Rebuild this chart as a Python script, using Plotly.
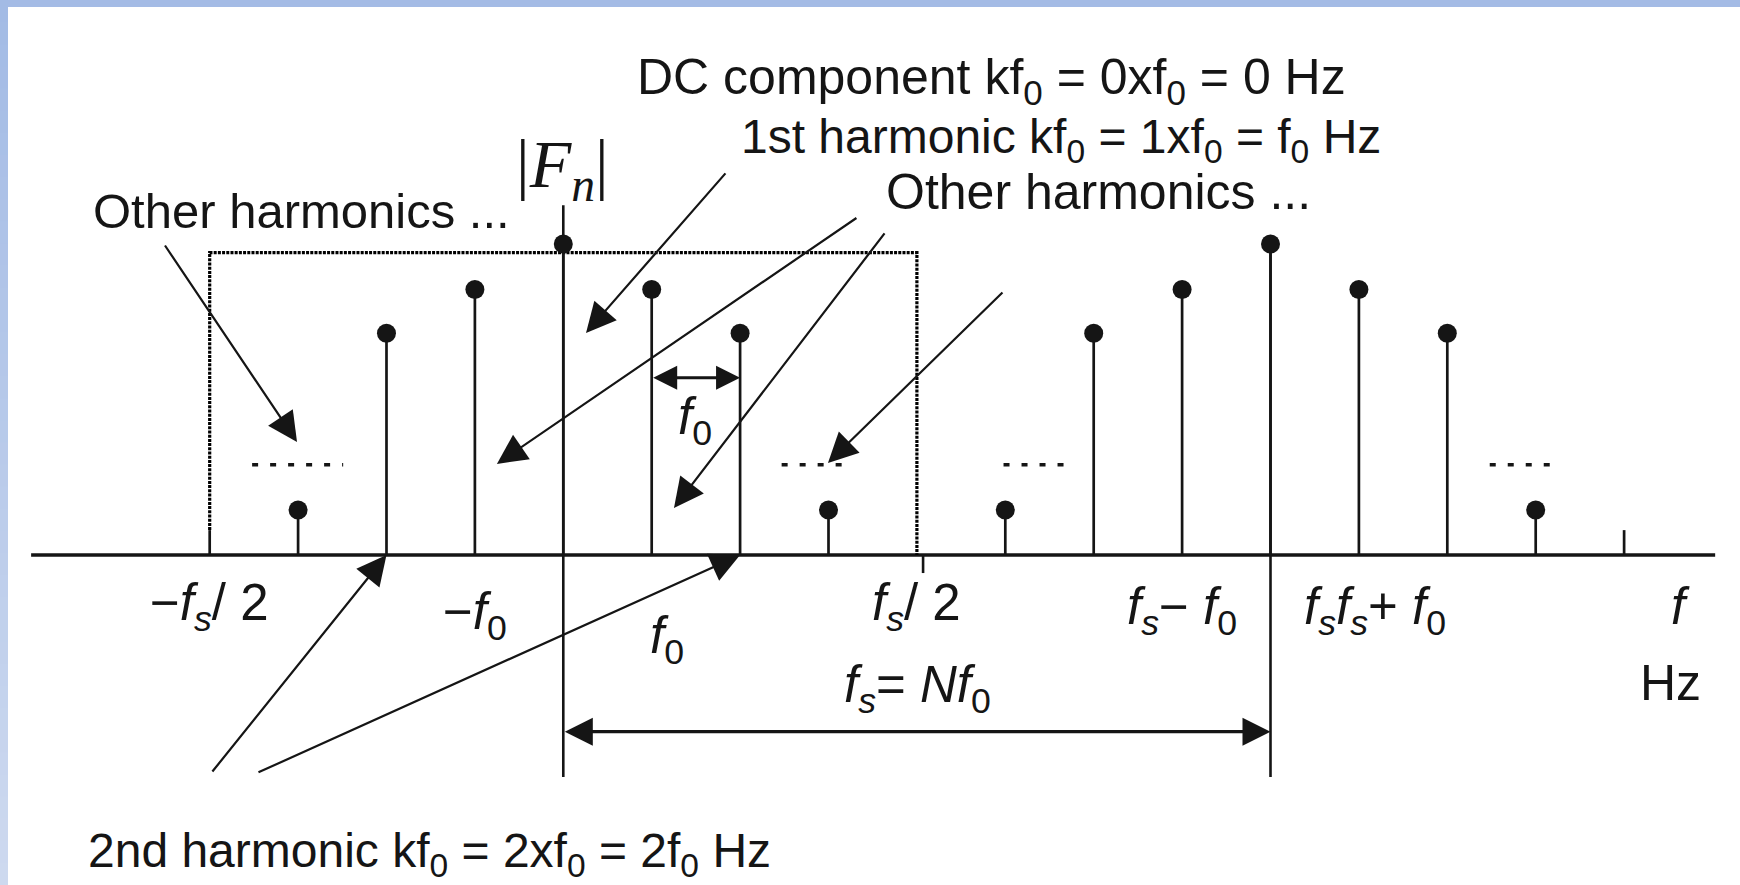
import plotly.graph_objects as go

# ---------------------------------------------------------------------------
# Line spectrum |F_n| of a sampled periodic signal (fs = N f0, N = 8)
# x axis: harmonic index k (frequency = k * f0), y axis: magnitude
# ---------------------------------------------------------------------------
harmonic_k = [-3, -2, -1, 0, 1, 2, 3, 5, 6, 7, 8, 9, 10, 11]
magnitude = [0.145, 0.713, 0.854, 1.0, 0.854, 0.713, 0.145,
             0.145, 0.713, 0.854, 1.0, 0.854, 0.713, 0.145]

# short stubs at the folding frequency -fs/2 and its image fs + fs/2
fold_k = [-4, 12]
fold_mag = [0.08, 0.08]

N = 8                      # fs = N f0
half_band = N / 2          # fs/2 in units of f0
box_top = 0.972            # height of the dotted baseband window
guide_low = -0.714         # lower end of the guide lines at 0 and fs
mag_axis_top = 1.125       # top of the |F_n| axis
dash_level = 0.29          # "...." continuation marks
dash_spans = [(-3.52, -2.49), (2.47, 3.28), (4.98, 5.78), (10.48, 11.26)]
axis_span = (-6.02, 13.03)

INK = "#151515"
SANS = "Liberation Sans, Arial, Helvetica, sans-serif"
SERIF = "Liberation Serif, Times New Roman, serif"

fig = go.Figure()

# frequency axis
fig.add_trace(go.Scatter(x=list(axis_span), y=[0, 0], mode="lines",
                         line=dict(color=INK, width=3.3), hoverinfo="skip"))

# dotted baseband window from -fs/2 to fs/2
fig.add_trace(go.Scatter(
    x=[-half_band, -half_band, half_band, half_band],
    y=[fold_mag[0], box_top, box_top, 0],
    mode="lines", line=dict(color="#000000", width=3.2, dash="3px,1.2px"),
    hoverinfo="skip"))

# tick just below the axis at fs/2
fig.add_trace(go.Scatter(x=[half_band + 0.07, half_band + 0.07], y=[0, -0.058],
                         mode="lines", line=dict(color=INK, width=2.6),
                         hoverinfo="skip"))

# |F_n| axis through DC and guide line at fs
fig.add_trace(go.Scatter(
    x=[0, 0, None, N, N], y=[guide_low, mag_axis_top, None, guide_low, 1.0],
    mode="lines", line=dict(color=INK, width=2.6), hoverinfo="skip"))

# stems
sx, sy = [], []
for k, m in zip(harmonic_k + fold_k, magnitude + fold_mag):
    sx += [k, k, None]
    sy += [0, m, None]
fig.add_trace(go.Scatter(x=sx, y=sy, mode="lines",
                         line=dict(color=INK, width=2.7), hoverinfo="skip"))

# stem heads
fig.add_trace(go.Scatter(x=harmonic_k, y=magnitude, mode="markers",
                         marker=dict(color=INK, size=19, line=dict(width=0)),
                         hoverinfo="skip"))

# continuation marks
for a, b in dash_spans:
    fig.add_trace(go.Scatter(x=[a, b], y=[dash_level, dash_level], mode="lines",
                             line=dict(color=INK, width=3.4, dash="6px,12px"),
                             hoverinfo="skip"))

annotations = []


def label(text, x, y, size=50, anchor="center", family=SANS):
    annotations.append(dict(text=text, x=x, y=y, xref="x", yref="y",
                            xanchor=anchor, yanchor="middle", showarrow=False,
                            font=dict(family=family, size=size, color=INK)))


def pointer(x0, y0, x1, y1):
    annotations.append(dict(text="", x=x1, y=y1, ax=x0, ay=y0,
                            xref="x", yref="y", axref="x", ayref="y",
                            showarrow=True, arrowhead=2, arrowsize=2.7,
                            arrowwidth=2.2, arrowcolor=INK, standoff=0))


def span(x0, x1, y, size):
    annotations.append(dict(text="", x=x1, y=y, ax=x0, ay=y,
                            xref="x", yref="y", axref="x", ayref="y",
                            showarrow=True, arrowhead=2, startarrowhead=2,
                            arrowside="end+start", arrowsize=size,
                            startarrowsize=size, arrowwidth=3.2,
                            arrowcolor=INK, standoff=0, startstandoff=0))


# descriptive text
label("DC component kf<sub>0</sub> = 0xf<sub>0</sub> = 0 Hz", 0.811, 1.527, anchor="left")
label("1st harmonic kf<sub>0</sub> = 1xf<sub>0</sub> = f<sub>0</sub> Hz", 1.99, 1.334,
      size=48, anchor="left")
label("Other harmonics ...", 3.627, 1.167, size=50, anchor="left")
label("Other harmonics ...", -5.343, 1.106, size=49, anchor="left")
label("2nd harmonic kf<sub>0</sub> = 2xf<sub>0</sub> = 2f<sub>0</sub> Hz", -5.40, -0.96,
      size=48, anchor="left")

# magnitude axis title
label("|<i>F</i><sub><i>n</i></sub>|", -0.01, 1.244, size=68, family=SERIF)

# frequency labels
label("−<i>f</i><sub><i>s</i></sub>/ 2", -4, -0.167, size=51)
label("−<i>f</i><sub>0</sub>", -1, -0.193, size=51)
label("<i>f</i><sub>0</sub>", 1.174, -0.273, size=51)
label("<i>f</i><sub><i>s</i></sub>/ 2", 4, -0.167, size=51)
label("<i>f</i><sub><i>s</i></sub>− <i>f</i><sub>0</sub>", 7, -0.177, size=51)
label("<i>f</i><sub><i>s</i></sub><i>f</i><sub><i>s</i></sub>+ <i>f</i><sub>0</sub>", 8.36, -0.177,
      size=51, anchor="left")
label("<i>f</i>", 12.64, -0.165, size=51)
label("Hz", 12.52, -0.412, size=50)
label("<i>f</i><sub><i>s</i></sub>= <i>Nf</i><sub>0</sub>", 4.01, -0.43, size=51)
label("<i>f</i><sub>0</sub>", 1.49, 0.434, size=51)

# pointers from the descriptions to the lines
pointer(-4.517, 1.0, -3.012, 0.363)
pointer(1.849, 1.232, 0.257, 0.714)
pointer(3.333, 1.087, -0.751, 0.293)
pointer(3.647, 1.039, 1.252, 0.151)
pointer(4.985, 0.849, 2.994, 0.296)
pointer(-3.983, -0.701, -2, 0)
pointer(-3.465, -0.701, 2, 0)

# spacing markers
span(1, 2, 0.570, 1.5)
span(0, N, -0.568, 1.75)

# light blue frame along the top and left edge
W, H = 1740, 885
shapes = [dict(type="rect", xref="paper", yref="paper", x0=0, x1=1,
               y0=1 - 7 / H, y1=1, line=dict(width=0), fillcolor="#a4bbe5",
               layer="above")]
steps = 40
top_rgb = (163, 187, 229)
bot_rgb = (205, 217, 239)
for i in range(steps):
    t = i / (steps - 1)
    r, g, b = (round(top_rgb[j] + (bot_rgb[j] - top_rgb[j]) * t) for j in range(3))
    shapes.append(dict(type="rect", xref="paper", yref="paper", x0=0, x1=8 / W,
                       y0=max(0, 1 - (i + 1.6) / steps), y1=1 - i / steps,
                       line=dict(width=0), fillcolor=f"rgb({r},{g},{b})",
                       layer="above"))

fig.update_layout(
    width=W, height=H, autosize=False,
    margin=dict(l=0, r=0, t=0, b=0),
    paper_bgcolor="white", plot_bgcolor="white",
    showlegend=False,
    xaxis=dict(range=[-6.372, 13.311], visible=False, fixedrange=True),
    yaxis=dict(range=[-1.0611, 1.7846], visible=False, fixedrange=True),
    annotations=annotations,
    shapes=shapes,
)

fig.write_html("out.html", config={"displayModeBar": False})
